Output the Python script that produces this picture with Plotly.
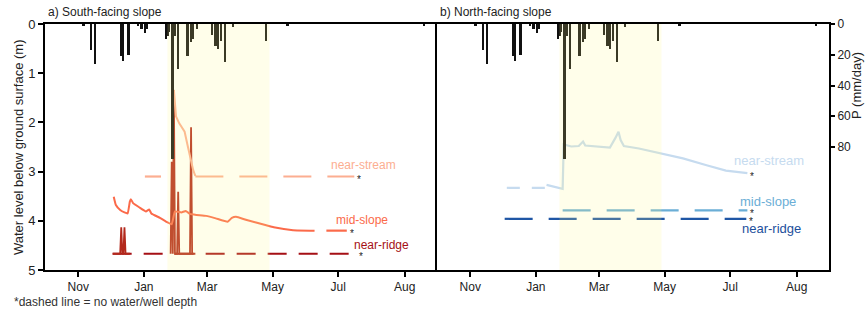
import plotly.graph_objects as go

# ---------------- data ----------------
# daily precipitation (mm/day)
p_dates = ['2020-11-06', '2020-11-13', '2020-11-17', '2020-12-11', '2020-12-13', '2020-12-18',
           '2020-12-27', '2020-12-30', '2021-01-02', '2021-01-04', '2021-01-22', '2021-01-24',
           '2021-01-25', '2021-01-28', '2021-01-30', '2021-02-02', '2021-02-11', '2021-02-14',
           '2021-02-16', '2021-02-20', '2021-03-06', '2021-03-09', '2021-03-11', '2021-03-14',
           '2021-03-18', '2021-03-25', '2021-04-25', '2021-05-15', '2021-09-19']
p_vals = [1, 17, 26, 21, 24, 20,
          1, 3, 6, 3, 10, 8,
          5, 88, 8, 29, 21, 12,
          10, 3, 7, 14, 16, 11,
          25, 2, 11, 1, 1]

# ---- a) South-facing slope ----
s_stream_dates = ['2021-01-29', '2021-01-31', '2021-02-03', '2021-02-08', '2021-02-11', '2021-02-16', '2021-02-18']
s_stream_vals = [1.34, 1.88, 2.02, 2.19, 2.49, 2.97, 3.09]
s_stream_dry1 = ['2021-01-02', '2021-01-17']
s_stream_dry2 = ['2021-02-18', '2021-07-16']
s_stream_depth = 3.10

s_mid_dates = ['2020-12-04', '2020-12-06', '2020-12-10', '2020-12-14', '2020-12-17', '2020-12-19',
               '2020-12-20', '2020-12-22', '2020-12-28', '2021-01-03', '2021-01-06', '2021-01-08',
               '2021-01-16', '2021-01-22', '2021-01-27', '2021-01-30', '2021-02-05', '2021-02-09',
               '2021-02-13', '2021-02-19', '2021-02-28', '2021-03-09', '2021-03-20', '2021-03-24',
               '2021-03-28', '2021-04-06', '2021-04-25', '2021-05-02', '2021-05-20', '2021-06-09']
s_mid_vals = [3.51, 3.68, 3.78, 3.83, 3.85, 3.61,
              3.56, 3.64, 3.73, 3.81, 3.77, 3.85,
              3.94, 4.02, 4.07, 3.81, 3.83, 3.80,
              3.86, 3.88, 3.90, 3.95, 4.02, 3.94,
              3.92, 3.98, 4.09, 4.13, 4.19, 4.20]
s_mid_dry = ['2021-06-20', '2021-07-09']
s_mid_depth = 4.20

s_ridge_dates = ['2020-12-03', '2020-12-10', '2020-12-11', '2020-12-12', '2020-12-13', '2020-12-14',
                 '2020-12-15', '2020-12-19', None,
                 '2021-01-26', '2021-01-27', '2021-01-28', '2021-01-29', '2021-01-30', '2021-02-01',
                 '2021-02-02', '2021-02-03', '2021-02-13', '2021-02-14', '2021-02-15', '2021-02-18']
s_ridge_vals = [4.67, 4.67, 4.13, 4.67, 4.67, 4.13,
                4.67, 4.67, None,
                4.67, 2.80, 4.67, 1.34, 4.67, 4.67,
                3.41, 4.67, 4.67, 2.10, 4.67, 4.67]
s_ridge_dry = ['2020-12-03', '2021-07-18']
s_ridge_depth = 4.67

# ---- b) North-facing slope ----
n_stream_dates = ['2021-01-11', '2021-01-20', '2021-01-26', '2021-01-27', '2021-02-03', '2021-02-10',
                  '2021-02-14', '2021-02-16', '2021-02-25', '2021-03-03', '2021-03-11', '2021-03-16',
                  '2021-03-19', '2021-03-21', '2021-03-24', '2021-04-07', '2021-04-26', '2021-05-18',
                  '2021-06-09', '2021-06-27', '2021-07-17']
n_stream_vals = [3.27, 3.31, 3.35, 2.45, 2.49, 2.48,
                 2.39, 2.47, 2.49, 2.50, 2.51, 2.32,
                 2.19, 2.36, 2.48, 2.53, 2.62, 2.73,
                 2.87, 2.98, 3.03]
n_stream_dry = ['2020-12-05', '2021-01-10']
n_stream_depth = 3.33

n_mid_dry = ['2021-01-26', '2021-07-17']
n_mid_depth = 3.79
n_ridge_dry = ['2020-12-03', '2021-07-16']
n_ridge_depth = 3.96

x_ticks = ['2020-11-01', '2021-01-01', '2021-03-01', '2021-05-01', '2021-07-01', '2021-09-01']
x_ticktext = ['Nov', 'Jan', 'Mar', 'May', 'Jul', 'Aug']
x_range = ['2020-10-01', '2021-10-01']
shade_range = ['2021-01-23', '2021-04-28']
p_ticks = [0, 20, 40, 60, 80]

# ---------------- colours ----------------
C_S_STREAM = '#FCAE91'
C_S_MID = '#FB6A4A'
C_S_RIDGE = '#A50F15'
C_S_RIDGE_SOLID = '#B3291C'
C_N_STREAM = '#C6DBEF'
C_N_MID = '#6BAED6'
C_N_RIDGE = '#1F56A5'
FONT = 'Liberation Sans, Arial, sans-serif'
DASH_L = '28px,16px'

fig = go.Figure()


def const_line(dates, depth, color, dash, xa, ya, width=2.2):
    fig.add_trace(go.Scatter(x=dates, y=[depth] * len(dates), mode='lines', xaxis=xa, yaxis=ya,
                             line=dict(color=color, width=width, dash=dash), hoverinfo='skip'))


# left panel water levels
const_line(s_ridge_dry, s_ridge_depth, C_S_RIDGE, '19px,12px', 'x', 'y')
fig.add_trace(go.Scatter(x=s_ridge_dates, y=s_ridge_vals, mode='lines', xaxis='x', yaxis='y',
                         line=dict(color=C_S_RIDGE_SOLID, width=1.8), connectgaps=False))
const_line(s_stream_dry1, s_stream_depth, C_S_STREAM, DASH_L, 'x', 'y')
const_line(s_stream_dry2, s_stream_depth, C_S_STREAM, DASH_L, 'x', 'y')
fig.add_trace(go.Scatter(x=s_stream_dates, y=s_stream_vals, mode='lines', xaxis='x', yaxis='y',
                         line=dict(color=C_S_STREAM, width=2)))
fig.add_trace(go.Scatter(x=s_mid_dates, y=s_mid_vals, mode='lines', xaxis='x', yaxis='y',
                         line=dict(color=C_S_MID, width=2, shape='spline', smoothing=0.3)))
const_line(s_mid_dry, s_mid_depth, C_S_MID, DASH_L, 'x', 'y')

# right panel water levels
const_line(n_stream_dry, n_stream_depth, C_N_STREAM, '13px,12px', 'x2', 'y2')
fig.add_trace(go.Scatter(x=n_stream_dates, y=n_stream_vals, mode='lines', xaxis='x2', yaxis='y2',
                         line=dict(color=C_N_STREAM, width=2.2)))
const_line(n_mid_dry, n_mid_depth, C_N_MID, DASH_L, 'x2', 'y2')
const_line(n_ridge_dry, n_ridge_depth, C_N_RIDGE, DASH_L, 'x2', 'y2')

# precipitation bars (both panels)
bar_w = 1.6 * 86400000
fig.add_trace(go.Bar(x=p_dates, y=p_vals, xaxis='x', yaxis='y3', width=bar_w,
                     marker=dict(color='#111111', line=dict(width=0))))
fig.add_trace(go.Bar(x=p_dates, y=p_vals, xaxis='x2', yaxis='y4', width=bar_w,
                     marker=dict(color='#111111', line=dict(width=0))))

axis_common = dict(showline=True, linecolor='black', linewidth=2, mirror=True, showgrid=False,
                   zeroline=False, ticks='outside', ticklen=5, tickwidth=1.5, tickcolor='black',
                   tickfont=dict(family=FONT, size=12, color='#222'))
yaxis_left = {**axis_common, 'mirror': False, 'tickfont': dict(family=FONT, size=13, color='#222')}

fig.update_layout(
    width=866, height=312,
    margin=dict(l=45, r=37, t=24, b=42),
    paper_bgcolor='white', plot_bgcolor='white',
    showlegend=False, bargap=0,
    font=dict(family=FONT, size=12, color='#222'),
    xaxis=dict(domain=[0, 0.5], anchor='y', type='date', range=x_range,
               tickvals=x_ticks, ticktext=x_ticktext, **axis_common),
    xaxis2=dict(domain=[0.5, 1], anchor='y2', type='date', range=x_range,
                tickvals=x_ticks, ticktext=x_ticktext, **axis_common),
    yaxis=dict(domain=[0, 1], anchor='x', range=[5, 0], tickvals=[0, 1, 2, 3, 4, 5], **yaxis_left),
    yaxis2=dict(domain=[0, 1], anchor='x2', range=[5, 0], showline=True, linecolor='black',
                linewidth=2, mirror=True, showgrid=False, zeroline=False, ticks='',
                showticklabels=False),
    yaxis3=dict(overlaying='y', anchor='x', range=[160, 0], visible=False),
    yaxis4=dict(overlaying='y2', anchor='x2', side='right', range=[160, 0], tickvals=p_ticks,
                showline=False, showgrid=False, zeroline=False, ticks='outside', ticklen=5,
                tickwidth=1.5, tickcolor='black',
                tickfont=dict(family=FONT, size=12, color='#222')),
)

# wet-season shading (drawn over the data with transparency)
for xr in ('x', 'x2'):
    fig.add_shape(type='rect', xref=xr, yref=('y domain' if xr == 'x' else 'y2 domain'),
                  x0=shade_range[0], x1=shade_range[1], y0=0, y1=1,
                  fillcolor='rgba(255,250,140,0.18)', line=dict(width=0), layer='above')

ann = []
# panel titles / axis titles / footnote
ann.append(dict(text='a) South-facing slope', xref='paper', yref='paper', x=0.0013, y=1.049,
                xanchor='left', yanchor='middle', showarrow=False, font=dict(size=12, color='#222')))
ann.append(dict(text='b) North-facing slope', xref='paper', yref='paper', x=0.5016, y=1.049,
                xanchor='left', yanchor='middle', showarrow=False, font=dict(size=12, color='#222')))
ann.append(dict(text='Water level below ground surface (m)', xref='paper', yref='paper',
                x=-0.0344, y=0.5, textangle=-90, xanchor='center', yanchor='middle',
                showarrow=False, font=dict(size=13, color='#222')))
ann.append(dict(text='P (mm/day)', xref='paper', yref='paper', x=1.0344, y=0.752, textangle=-90,
                xanchor='center', yanchor='middle', showarrow=False, font=dict(size=13, color='#222')))
ann.append(dict(text='*dashed line = no water/well depth', xref='paper', yref='paper',
                x=-0.0421, y=-0.130, xanchor='left', yanchor='middle', showarrow=False,
                font=dict(size=12, color='#333')))

# series labels
labels = [
    ('near-stream', 'x', 'y', '2021-07-25', 2.87, C_S_STREAM, 12),
    ('mid-slope', 'x', 'y', '2021-07-23', 3.98, C_S_MID, 12),
    ('near-ridge', 'x', 'y', '2021-08-10', 4.49, C_S_RIDGE, 12),
    ('near-stream', 'x2', 'y2', '2021-08-06', 2.78, C_N_STREAM, 13),
    ('mid-slope', 'x2', 'y2', '2021-08-05', 3.61, C_N_MID, 13),
    ('near-ridge', 'x2', 'y2', '2021-08-08', 4.15, '#1C4F9C', 13),
]
for t, xr, yr, xv, yv, c, s in labels:
    ann.append(dict(text=t, xref=xr, yref=yr, x=xv, y=yv, xanchor='center', yanchor='middle',
                    showarrow=False, font=dict(size=s, color=c)))

# asterisks at the end of the dashed lines
stars = [
    ('x', 'y', s_stream_dry2[1], s_stream_depth),
    ('x', 'y', s_mid_dry[1], s_mid_depth),
    ('x', 'y', s_ridge_dry[1], s_ridge_depth),
    ('x2', 'y2', n_stream_dates[-1], n_stream_vals[-1]),
    ('x2', 'y2', n_mid_dry[1], n_mid_depth),
    ('x2', 'y2', n_ridge_dry[1], n_ridge_depth),
]
for xr, yr, xv, yv in stars:
    ann.append(dict(text='*', xref=xr, yref=yr, x=xv, y=yv, xanchor='left', yanchor='middle',
                    xshift=1, yshift=-3, showarrow=False, font=dict(size=10, color='#222')))

fig.update_layout(annotations=ann)
fig.write_html('out.html', config={'displayModeBar': False},
               post_script="document.body.style.margin='0';document.body.style.padding='0';")
